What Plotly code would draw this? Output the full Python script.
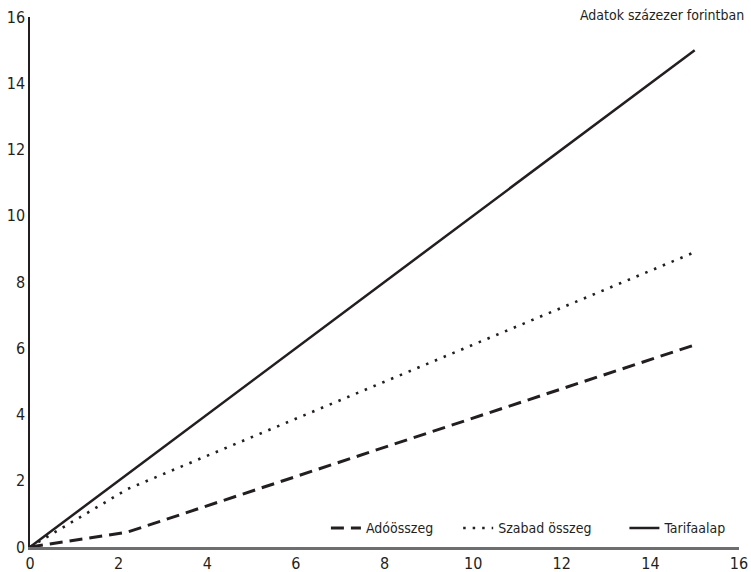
import plotly.graph_objects as go

# Data (százezer forint)
tarifa_x = [0, 15]
tarifa_y = [0, 15]
ado_x = [0, 2.2, 15]
ado_y = [0, 0.45, 6.1]
szabad_x = [0, 2.2, 15]
szabad_y = [0, 1.75, 8.9]
tick_vals = [0, 2, 4, 6, 8, 10, 12, 14, 16]

FONT = "DejaVu Sans Condensed, Liberation Sans Narrow, sans-serif"
NB = "\u00a0"

fig = go.Figure()
fig.add_trace(go.Scatter(x=ado_x, y=ado_y, mode="lines", name="Adóösszeg" + NB * 5,
                         line=dict(color="#231f20", width=3, dash="13px,7px")))
fig.add_trace(go.Scatter(x=szabad_x, y=szabad_y, mode="lines", name="Szabad összeg" + NB * 7,
                         line=dict(color="#231f20", width=2.6, dash="2.5px,7px")))
fig.add_trace(go.Scatter(x=tarifa_x, y=tarifa_y, mode="lines", name="Tarifaalap",
                         line=dict(color="#231f20", width=2.5)))

fig.update_layout(
    width=751, height=572,
    margin=dict(l=30, r=12, t=17, b=25),
    paper_bgcolor="white", plot_bgcolor="white",
    font=dict(family=FONT, size=16, color="#231f20"),
    showlegend=True,
    legend=dict(orientation="h", x=0.99, xanchor="right", y=0.005, yanchor="bottom",
                font=dict(size=14), bgcolor="rgba(0,0,0,0)",
                tracegroupgap=0, traceorder="normal"),
    xaxis=dict(range=[0, 16], tickvals=tick_vals, showgrid=False, zeroline=False,
               showline=True, linecolor="#6d6e70", linewidth=2.5, ticks="",
               tickfont=dict(size=16), fixedrange=True, automargin=False,
               ticklabeloverflow="allow"),
    yaxis=dict(range=[0, 16], tickvals=tick_vals, showgrid=False, zeroline=False,
               showline=True, linecolor="#231f20", linewidth=1.5, ticks="",
               tickfont=dict(size=16), fixedrange=True, automargin=False,
               ticklabeloverflow="allow"),
    annotations=[dict(text="Adatok százezer forintban", xref="paper", yref="paper",
                      x=1.01, y=1.0, xanchor="right", yanchor="bottom", yshift=-8,
                      showarrow=False, font=dict(size=14))],
)

fig.write_html("out.html", config={"displayModeBar": False},
               post_script="document.body.style.margin='0';document.body.style.overflow='hidden';")
